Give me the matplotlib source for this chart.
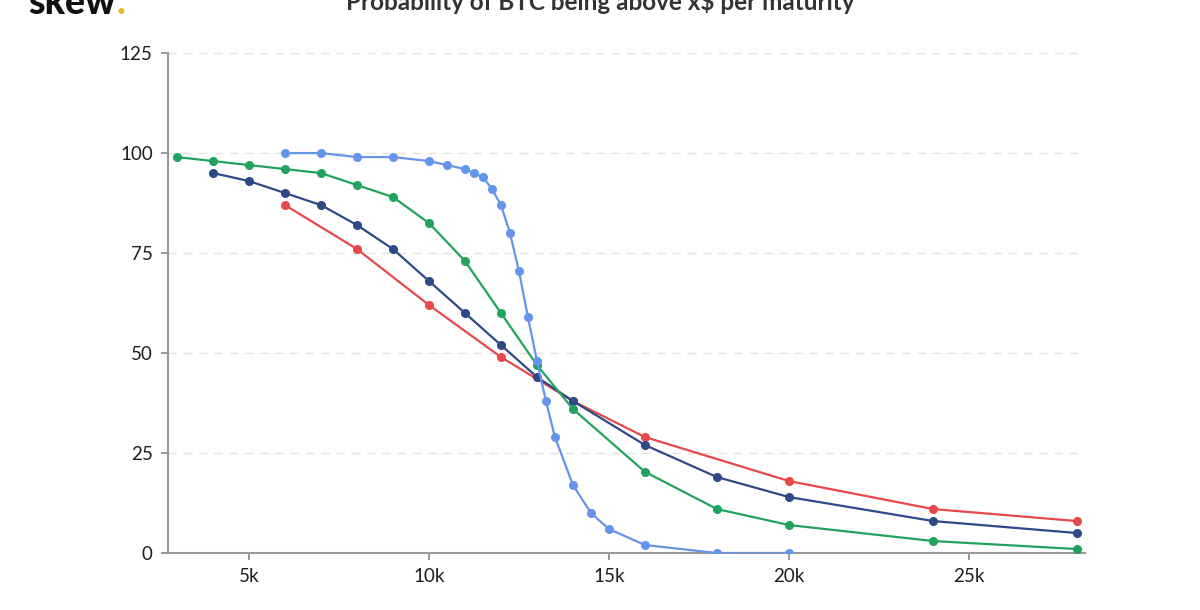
import matplotlib
matplotlib.use('Agg')
import matplotlib.pyplot as plt

plt.rcParams['font.family'] = ['Lato', 'DejaVu Sans']

# strikes (k$) and probability (%) per maturity
x_short = [6, 7, 8, 9, 10, 10.5, 11, 11.25, 11.5, 11.75, 12, 12.25, 12.5, 12.75,
           13, 13.25, 13.5, 14, 14.5, 15, 16, 18, 20]
p_short = [100, 100, 99, 99, 98, 97, 96, 95, 94, 91, 87, 80, 70.5, 59,
           48, 38, 29, 17, 10, 6, 2, 0, 0]

x_green = [3, 4, 5, 6, 7, 8, 9, 10, 11, 12, 13, 14, 16, 18, 20, 24, 28]
p_green = [99, 98, 97, 96, 95, 92, 89, 82.5, 73, 60, 47, 36, 20.3, 11, 7, 3, 1]

x_navy = [4, 5, 6, 7, 8, 9, 10, 11, 12, 13, 14, 16, 18, 20, 24, 28]
p_navy = [95, 93, 90, 87, 82, 76, 68, 60, 52, 44, 38, 27, 19, 14, 8, 5]

x_red = [6, 8, 10, 12, 14, 16, 20, 24, 28]
p_red = [87, 76, 62, 49, 38, 29, 18, 11, 8]

x_ticks = [5, 10, 15, 20, 25]
x_labels = ['5k', '10k', '15k', '20k', '25k']
y_ticks = [0, 25, 50, 75, 100, 125]

fig = plt.figure(figsize=(12, 6.1), dpi=100)
ax = fig.add_axes([0.14, 0.0934, 0.764, 0.8196])

series = [
    (x_red, p_red, '#e8484a'),
    (x_navy, p_navy, '#2d4a86'),
    (x_green, p_green, '#21a35e'),
    (x_short, p_short, '#6595eb'),
]
for xs, ys, c in series:
    ax.plot(xs, ys, '-o', color=c, linewidth=1.6, markersize=5.5, zorder=3)

ax.set_xlim(2.75, 28.22)
ax.set_ylim(0, 125)
ax.set_xticks(x_ticks)
ax.set_xticklabels(x_labels)
ax.set_yticks(y_ticks)
ax.tick_params(axis='both', labelsize=13.5, length=5, width=1.2, pad=6,
               colors='#888888', labelcolor='#1e1e1e')

ax.grid(axis='y', color='#e3e3e3', linestyle=(0, (6, 5)), linewidth=1)
ax.set_axisbelow(True)
for s in ['top', 'right']:
    ax.spines[s].set_visible(False)
for s in ['left', 'bottom']:
    ax.spines[s].set_color('#999999')
    ax.spines[s].set_linewidth(1.5)

# title (cut at the top edge like the source)
fig.text(0.5, 1 - 10 / 610, 'Probability of BTC being above x$ per maturity',
         ha='center', va='baseline', fontsize=17.5, fontweight='bold', color='#333333')

# logo
logo = fig.text(28 / 1200, 1 - 14 / 610, 'skew', ha='left', va='baseline',
                fontsize=27, fontweight='black', color='#111111')
fig.canvas.draw()
bb = logo.get_window_extent()
fig.text(bb.x1 / 1200 + 0.001, 1 - 14 / 610, '.', ha='left', va='baseline',
         fontsize=27, fontweight='black', color='#e8b530')

fig.savefig('out.png', dpi=100)
